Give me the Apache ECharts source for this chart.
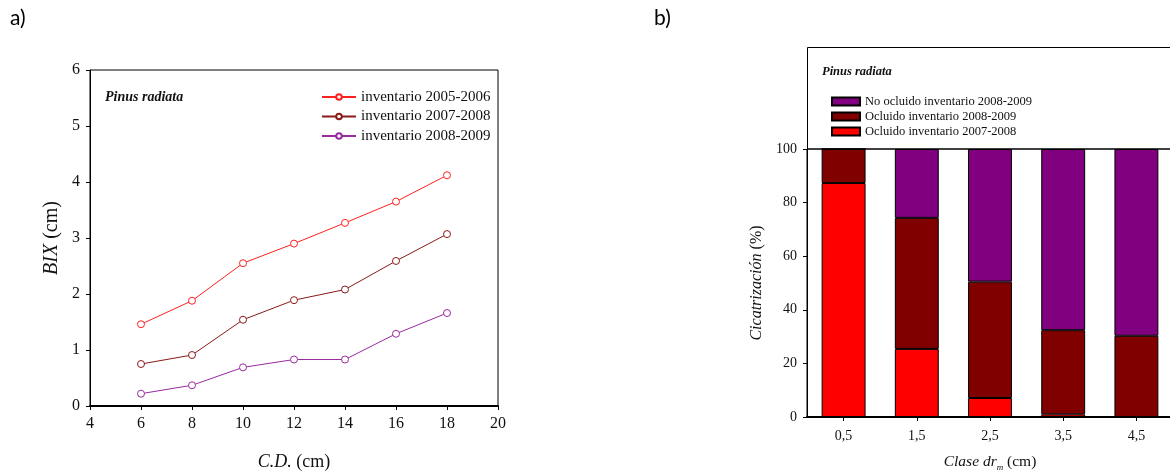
<!DOCTYPE html>
<html>
<head>
<meta charset="utf-8">
<script src="https://cdn.jsdelivr.net/npm/echarts@6/dist/echarts.min.js"></script>
<style>
  html, body { margin: 0; padding: 0; background: #fff; }
  #main { width: 1170px; height: 472px; }
</style>
</head>
<body>
<div id="main"></div>
<script>
// panel a) - BIX por clase diametrica
var cdClasses = [6, 8, 10, 12, 14, 16, 18];
var inv0506 = [1.46, 1.88, 2.55, 2.90, 3.27, 3.65, 4.12];
var inv0708 = [0.75, 0.91, 1.54, 1.89, 2.08, 2.59, 3.07];
var inv0809 = [0.22, 0.37, 0.69, 0.83, 0.83, 1.29, 1.66];
var lineNames = ['inventario 2005-2006', 'inventario 2007-2008', 'inventario 2008-2009'];

// panel b) - cicatrizacion (%)
var drClasses = ['0,5', '1,5', '2,5', '3,5', '4,5'];
var ocl0708 = [87.3, 25.4, 7.1, 1.0, 0];
var ocl0809 = [12.7, 48.9, 43.4, 31.4, 30.3];
var noOcl0809 = [0, 25.7, 49.5, 67.6, 69.7];
var barNames = ['No ocluido inventario 2008-2009', 'Ocluido inventario 2008-2009', 'Ocluido inventario 2007-2008'];

var serif = 'Liberation Serif';

function pairs(xs, ys) {
  var out = [];
  for (var i = 0; i < xs.length; i++) out.push([xs[i], ys[i]]);
  return out;
}

function lineSeries(name, color, data) {
  return {
    name: name,
    type: 'line',
    xAxisIndex: 0,
    yAxisIndex: 0,
    data: pairs(cdClasses, data),
    symbol: 'circle',
    symbolSize: 7,
    lineStyle: { color: color, width: 1 },
    itemStyle: { color: '#fff', borderColor: color, borderWidth: 1 },
    emphasis: { disabled: true }
  };
}

function barSeries(name, color, data) {
  return {
    name: name,
    type: 'bar',
    stack: 'cic',
    xAxisIndex: 1,
    yAxisIndex: 1,
    barWidth: '60%',
    data: data,
    itemStyle: { color: color, borderColor: '#000', borderWidth: 1 },
    emphasis: { disabled: true }
  };
}

var myChart = echarts.init(document.getElementById('main'));

var option = {
  animation: false,
  backgroundColor: '#fff',
  textStyle: { fontFamily: serif, color: '#000' },
  grid: [
    { left: 90, top: 70, width: 408, height: 336, outerBoundsMode: 'none', containLabel: false, show: true, borderColor: '#000', borderWidth: 1, backgroundColor: 'transparent' },
    { left: 807, top: 149, width: 366, height: 268, outerBoundsMode: 'none', containLabel: false, show: true, borderColor: '#000', borderWidth: 1, backgroundColor: 'transparent' }
  ],
  legend: [
    {
      data: lineNames,
      orient: 'vertical',
      left: 316,
      top: 84,
      itemGap: 3.5,
      itemWidth: 34,
      itemHeight: 7,
      textStyle: { fontFamily: serif, fontSize: 15, color: '#111', lineHeight: 16 },
      selectedMode: false
    },
    {
      data: barNames,
      orient: 'vertical',
      left: 826,
      top: 90,
      itemGap: 2,
      itemWidth: 28,
      itemHeight: 8,
      icon: 'rect',
      textStyle: { fontFamily: serif, fontSize: 12.5, color: '#111', lineHeight: 13 },
      selectedMode: false
    }
  ],
  xAxis: [
    {
      gridIndex: 0,
      type: 'value',
      min: 4,
      max: 20,
      interval: 2,
      axisLine: { lineStyle: { color: '#000', width: 2 } },
      axisTick: { show: true, length: 4, lineStyle: { color: '#000' } },
      axisLabel: { fontFamily: serif, fontSize: 16, color: '#111', margin: 10 },
      splitLine: { show: false },
      name: '{i|C.D.} (cm)',
      nameLocation: 'middle',
      nameGap: 47,
      nameTextStyle: {
        fontFamily: serif, fontSize: 18, color: '#111',
        rich: { i: { fontFamily: serif, fontSize: 18, fontStyle: 'italic', color: '#111' } }
      }
    },
    {
      gridIndex: 1,
      type: 'category',
      data: drClasses,
      axisLine: { lineStyle: { color: '#000', width: 2 } },
      axisTick: { show: true, alignWithLabel: true, length: 4, lineStyle: { color: '#000' } },
      axisLabel: { fontFamily: serif, fontSize: 14, color: '#111', margin: 12 },
      name: '{i|Clase dr}{sub|m}{t| (cm)}',
      nameLocation: 'middle',
      nameGap: 37,
      nameTextStyle: {
        fontFamily: serif, fontSize: 15.5, color: '#111',
        rich: {
          i: { fontFamily: serif, fontSize: 15.5, fontStyle: 'italic', color: '#111', lineHeight: 18, verticalAlign: 'top' },
          t: { fontFamily: serif, fontSize: 15.5, color: '#111', lineHeight: 18, verticalAlign: 'top' },
          sub: { fontFamily: serif, fontSize: 9, fontStyle: 'italic', color: '#111', lineHeight: 10, verticalAlign: 'bottom' }
        }
      }
    }
  ],
  yAxis: [
    {
      gridIndex: 0,
      type: 'value',
      min: 0,
      max: 6,
      interval: 1,
      axisLine: { show: true, lineStyle: { color: '#000', width: 1 } },
      axisTick: { show: true, length: 4, lineStyle: { color: '#000' } },
      axisLabel: { fontFamily: serif, fontSize: 16, color: '#111', margin: 10 },
      splitLine: { show: false },
      name: '{i|BIX} (cm)',
      nameLocation: 'middle',
      nameGap: 28,
      nameTextStyle: {
        fontFamily: serif, fontSize: 20, color: '#111',
        rich: { i: { fontFamily: serif, fontSize: 20, fontStyle: 'italic', color: '#111' } }
      }
    },
    {
      gridIndex: 1,
      type: 'value',
      min: 0,
      max: 100,
      interval: 20,
      axisLine: { show: true, lineStyle: { color: '#000', width: 1 } },
      axisTick: { show: true, length: 4, lineStyle: { color: '#000' } },
      axisLabel: { fontFamily: serif, fontSize: 14, color: '#111', margin: 10 },
      splitLine: { show: false },
      name: '{i|Cicatrización} (%)',
      nameLocation: 'middle',
      nameGap: 42,
      nameTextStyle: {
        fontFamily: serif, fontSize: 16, color: '#111',
        rich: { i: { fontFamily: serif, fontSize: 16, fontStyle: 'italic', color: '#111' } }
      }
    }
  ],
  graphic: [
    { type: 'text', left: 10, top: 8, style: { text: 'a)', font: '21px Lato', fill: '#000' } },
    { type: 'text', left: 654, top: 8, style: { text: 'b)', font: '21px Lato', fill: '#000' } },
    { type: 'text', left: 105, top: 90, style: { text: 'Pinus radiata', font: 'italic bold 14px "Liberation Serif"', fill: '#111' } },
    { type: 'rect', shape: { x: 807.5, y: 47.5, width: 366, height: 101.5 }, style: { fill: 'none', stroke: '#000', lineWidth: 1 }, z: 0 },
    { type: 'text', left: 822, top: 65, style: { text: 'Pinus radiata', font: 'italic bold 12.5px "Liberation Serif"', fill: '#111' } }
  ],
  series: [
    lineSeries(lineNames[0], '#ff2020', inv0506),
    lineSeries(lineNames[1], '#8b1a1a', inv0708),
    lineSeries(lineNames[2], '#9a2aa0', inv0809),
    barSeries(barNames[2], '#ff0000', ocl0708),
    barSeries(barNames[1], '#800000', ocl0809),
    barSeries(barNames[0], '#800080', noOcl0809)
  ]
};

myChart.setOption(option);
</script>
</body>
</html>
